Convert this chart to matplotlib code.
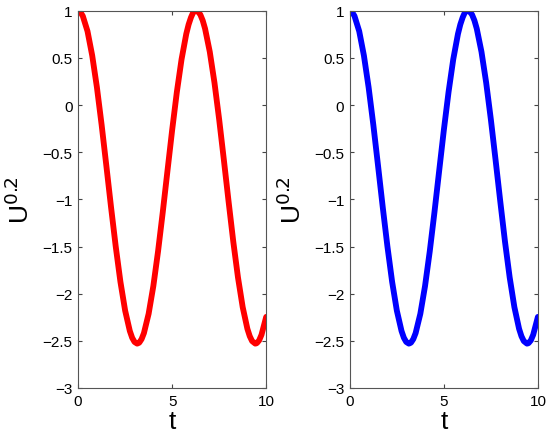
import numpy as np
import matplotlib
matplotlib.use("Agg")
import matplotlib.pyplot as plt

# values (same curve in both panels)
t = [0.0, 0.125, 0.25, 0.5, 0.75, 1.0, 1.25, 1.5, 1.75, 2.0, 2.25, 2.5, 2.75, 2.875,
     3.0, 3.14, 3.25, 3.375, 3.5, 3.75, 4.0, 4.25, 4.5, 4.75, 5.0, 5.25, 5.5, 5.75,
     5.875, 6.0, 6.125, 6.28, 6.375, 6.5, 6.625, 6.75, 7.0, 7.25, 7.5, 7.75, 8.0,
     8.25, 8.5, 8.75, 9.0, 9.125, 9.25, 9.42, 9.5, 9.625, 9.75, 10.0]
u_red = [1.0, 0.986, 0.945, 0.784, 0.526, 0.189, -0.208, -0.640, -1.080, -1.499,
         -1.874, -2.179, -2.396, -2.468, -2.512, -2.53, -2.520, -2.482, -2.418,
         -2.213, -1.919, -1.552, -1.137, -0.699, -0.264, 0.139, 0.486, 0.755,
         0.855, 0.930, 0.986, 1.0, 0.993, 0.959, 0.898, 0.811, 0.566, 0.238,
         -0.153, -0.582, -1.022, -1.448, -1.828, -2.143, -2.373, -2.451, -2.503,
         -2.53, -2.525, -2.495, -2.436, -2.246]
u_blue = list(u_red)

xticks = [0, 5, 10]
yticks = [-3, -2.5, -2, -1.5, -1, -0.5, 0, 0.5, 1]

plt.rcParams['font.family'] = 'Liberation Sans'

fig = plt.figure(figsize=(5.5, 4.39), dpi=100)
ax1 = fig.add_axes([0.142, 0.114, 0.342, 0.859])
ax2 = fig.add_axes([0.636, 0.114, 0.342, 0.859])

for ax, u, col in [(ax1, u_red, 'red'), (ax2, u_blue, 'blue')]:
    ax.plot(t, u, color=col, linewidth=4.2, solid_capstyle='round',
            solid_joinstyle='round')
    ax.set_xlim(0, 10)
    ax.set_ylim(-3, 1)
    ax.set_xticks(xticks)
    ax.set_xticklabels([str(v) for v in xticks])
    ax.set_yticks(yticks)
    ax.set_yticklabels([('%g' % v).replace('-', '\u2212') for v in yticks])
    ax.tick_params(direction='in', top=True, right=True, length=3,
                   width=0.8, color='#444444', labelsize=11, pad=4)
    for s in ax.spines.values():
        s.set_color('#555555')
        s.set_linewidth(0.8)
    ax.set_xlabel('t', fontsize=19, labelpad=1)
    ax.set_ylabel(r'U$^{0.2}$', fontsize=19, labelpad=6)

fig.savefig('out.png', dpi=100)
